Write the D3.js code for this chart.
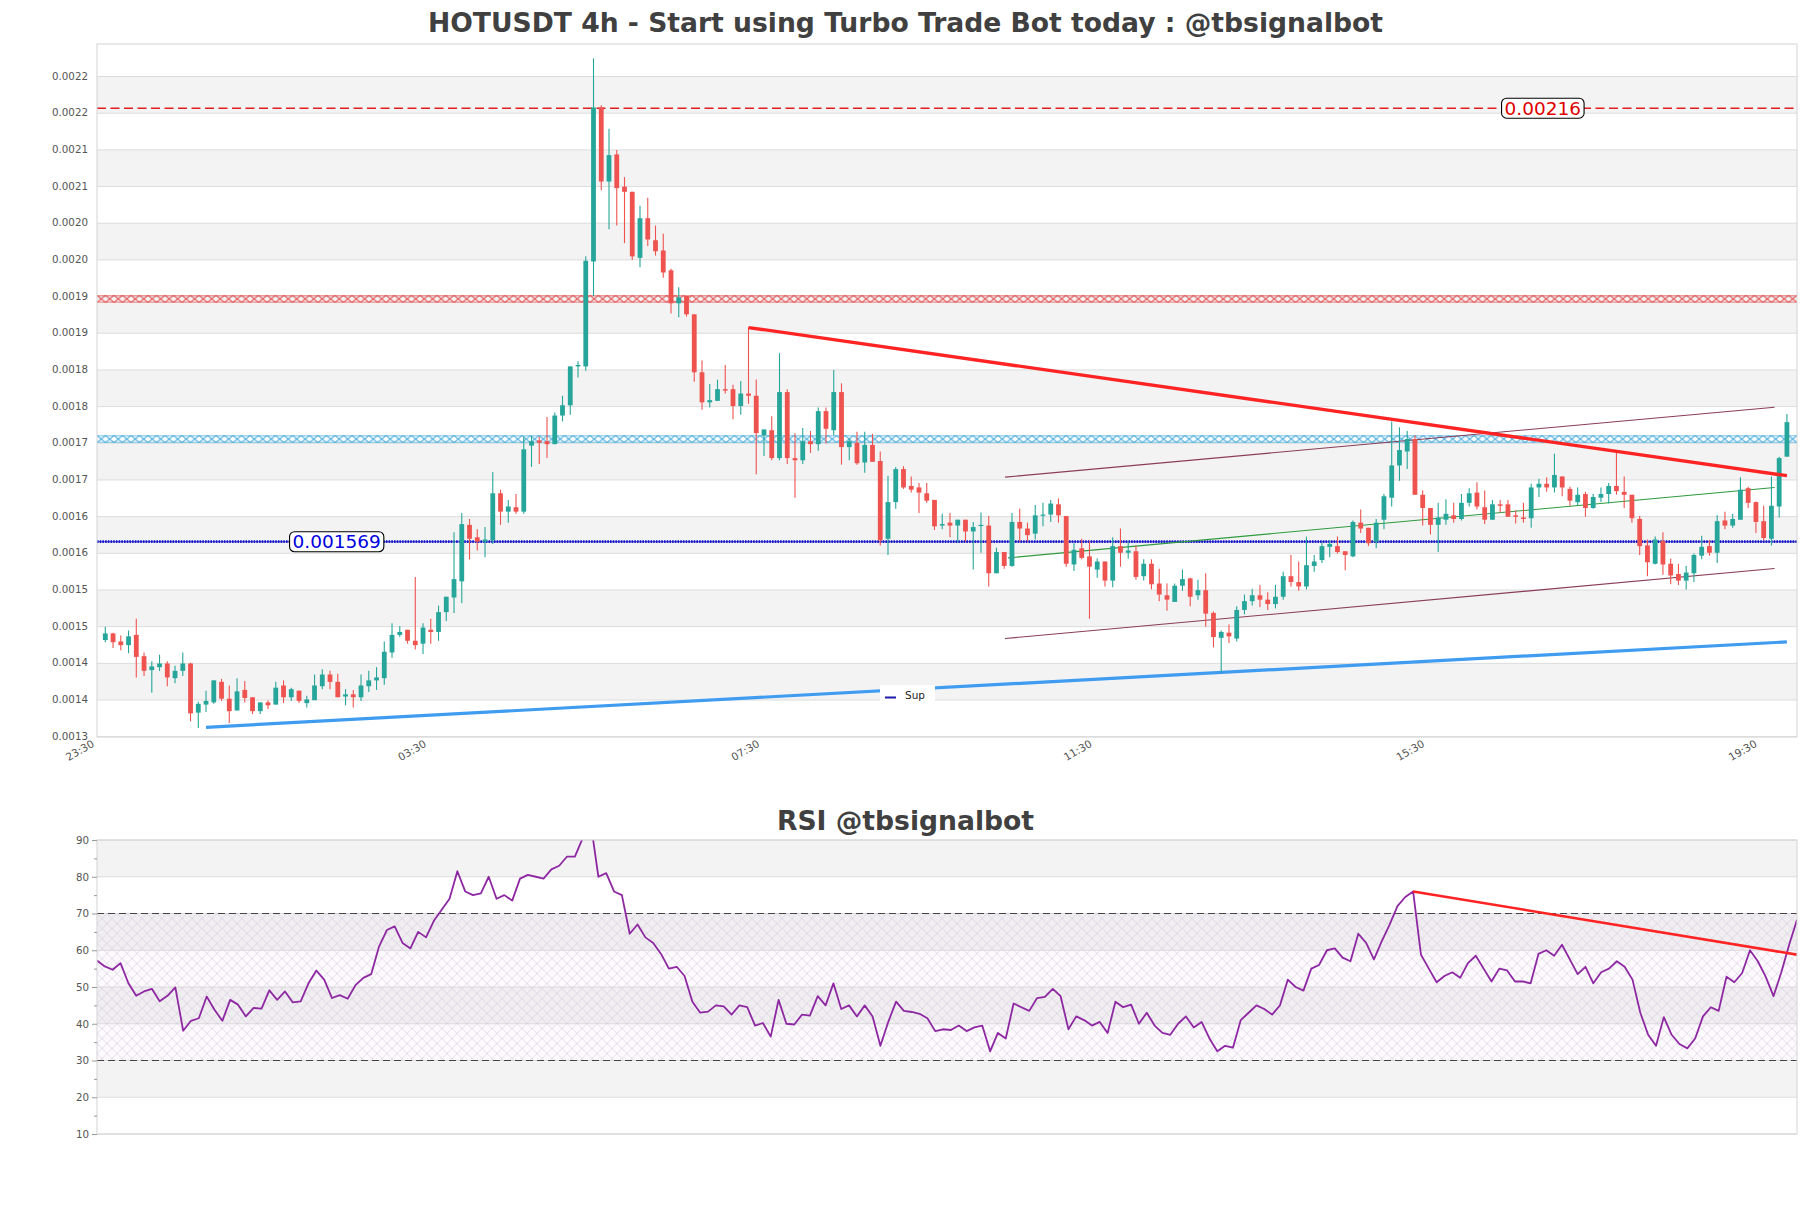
<!DOCTYPE html>
<html><head><meta charset="utf-8">
<script src="https://cdn.jsdelivr.net/npm/d3@7"></script>
<style>
body{margin:0;background:#fff;}
svg{display:block;font-family:"DejaVu Sans",sans-serif;}
</style></head><body>
<svg id="chart" width="1811" height="1208"></svg>
<script>
// ---------------- DATA ----------------
const openP = [0.001435,0.001444,0.001433,0.001428,0.001442,0.001413,0.001394,0.001398,0.001403,0.001383,
0.001393,0.001403,0.001336,0.001347,0.00135,0.001378,0.001355,0.001339,0.001367,0.001357,
0.001338,0.00135,0.001347,0.001373,0.001357,0.001366,0.001349,0.001353,0.001372,0.001388,
0.001378,0.001358,0.001361,0.001357,0.001372,0.00138,0.001383,0.001418,0.001442,0.001449,
0.001434,0.00143,0.001449,0.001446,0.001473,0.001493,0.001515,0.001592,0.001575,0.001569,
0.001571,0.001635,0.00161,0.001616,0.00161,0.0017,0.001707,0.001706,0.001702,0.001741,
0.001755,0.001808,0.001808,0.001951,0.002161,0.00206,0.002097,0.002053,0.002046,0.001956,
0.00201,0.00198,0.001966,0.001939,0.001894,0.001904,0.001879,0.0018,0.001759,0.001761,
0.001777,0.001777,0.001754,0.001771,0.001768,0.001714,0.001721,0.001683,0.001773,0.001683,
0.00168,0.001706,0.001702,0.001747,0.001721,0.001773,0.001698,0.001704,0.001677,0.001701,
0.001679,0.001573,0.001623,0.001668,0.001645,0.001643,0.001635,0.001626,0.001591,0.001595,
0.001591,0.001599,0.001583,0.001591,0.001591,0.001526,0.001555,0.001536,0.001596,0.001587,
0.00158,0.001605,0.001606,0.00162,0.001604,0.001538,0.00156,0.001549,0.001531,0.001542,
0.001516,0.001563,0.001554,0.001556,0.001522,0.001539,0.001512,0.001496,0.001487,0.001509,
0.001519,0.001496,0.001503,0.001472,0.001438,0.001445,0.001437,0.001476,0.001488,0.001496,
0.00149,0.001484,0.001494,0.001522,0.001514,0.001508,0.001536,0.001544,0.001562,0.001563,
0.001556,0.001549,0.001595,0.001588,0.001569,0.001599,0.001629,0.001673,0.001692,0.001709,
0.001633,0.001615,0.001592,0.001599,0.001605,0.0016,0.001622,0.001636,0.001616,0.001599,
0.00162,0.00162,0.001605,0.001602,0.001601,0.001643,0.001648,0.001643,0.001658,0.001641,
0.001623,0.001634,0.001615,0.001629,0.001634,0.001645,0.001637,0.001633,0.0016,0.001564,
0.001539,0.00157,0.001539,0.001525,0.001516,0.001526,0.00155,0.001563,0.001554,0.001598,
0.001591,0.001599,0.001642,0.001623,0.001597,0.001573,0.001617,0.001685];
const highP = [0.001453,0.001445,0.001441,0.001448,0.001464,0.001418,0.001406,0.001415,0.001406,0.0014,
0.001418,0.001404,0.001351,0.001366,0.00138,0.001382,0.001373,0.001383,0.001379,0.001357,
0.00135,0.001353,0.001378,0.00138,0.00137,0.001366,0.001359,0.001388,0.001395,0.001393,
0.001389,0.001368,0.001367,0.001388,0.001393,0.001398,0.001433,0.001458,0.001454,0.001449,
0.001521,0.001458,0.001464,0.001482,0.001494,0.001582,0.001608,0.0016,0.001586,0.001589,
0.001664,0.00164,0.001626,0.001634,0.001712,0.001713,0.001712,0.001739,0.001745,0.001768,
0.001808,0.001815,0.001958,0.002228,0.002164,0.002132,0.002103,0.002066,0.002046,0.002027,
0.002038,0.002,0.001989,0.001941,0.001916,0.001904,0.001879,0.001816,0.001784,0.00179,
0.00181,0.001783,0.001788,0.001861,0.00179,0.001722,0.00174,0.001826,0.001777,0.001717,
0.001724,0.00172,0.001752,0.001752,0.001803,0.001785,0.00171,0.001719,0.001719,0.001716,
0.001692,0.001659,0.001671,0.001672,0.001658,0.001649,0.001649,0.001626,0.001607,0.001608,
0.001599,0.001599,0.001596,0.001609,0.001604,0.001561,0.001555,0.001608,0.001614,0.001595,
0.001619,0.001622,0.001626,0.001628,0.001604,0.001567,0.001573,0.00157,0.001546,0.001542,
0.001575,0.001587,0.00157,0.001564,0.001545,0.001545,0.001532,0.001512,0.001512,0.001531,
0.00152,0.001517,0.001526,0.001474,0.001448,0.001456,0.001481,0.001497,0.001505,0.00151,
0.0015,0.00151,0.001528,0.001551,0.001542,0.001576,0.001551,0.001568,0.001571,0.001576,
0.001556,0.001598,0.001613,0.001588,0.0016,0.001634,0.001733,0.001725,0.00172,0.001714,
0.001639,0.001615,0.001622,0.001627,0.001622,0.001634,0.001642,0.00165,0.001639,0.001626,
0.001626,0.001626,0.001612,0.001622,0.001648,0.001655,0.001657,0.001689,0.001658,0.001644,
0.001643,0.001637,0.001634,0.001643,0.001649,0.00169,0.001658,0.001633,0.001604,0.001572,
0.001576,0.001582,0.001546,0.001539,0.001536,0.001553,0.001577,0.001571,0.001605,0.00161,
0.001607,0.001657,0.001644,0.001624,0.001618,0.001658,0.001685,0.001743];
const lowP = [0.001432,0.001424,0.001421,0.001417,0.001384,0.001386,0.001363,0.001393,0.001372,0.001376,
0.001386,0.001324,0.001315,0.001337,0.001348,0.001352,0.001322,0.001339,0.00135,0.001334,
0.001334,0.001341,0.001347,0.001349,0.001352,0.001349,0.001343,0.001353,0.001368,0.001368,
0.001357,0.001346,0.001343,0.001352,0.001364,0.001367,0.001374,0.001411,0.001439,0.00143,
0.001422,0.001416,0.00143,0.001434,0.001461,0.001472,0.001485,0.001545,0.001557,0.001548,
0.001566,0.001592,0.001595,0.001607,0.001607,0.001671,0.001675,0.001683,0.001702,0.001733,
0.001742,0.001793,0.001802,0.001904,0.002048,0.001995,0.002,0.001976,0.001953,0.001943,
0.001972,0.001959,0.001929,0.00188,0.001875,0.001876,0.001787,0.001749,0.001752,0.001761,
0.001771,0.001736,0.001742,0.001757,0.001661,0.001686,0.00168,0.00168,0.001675,0.001629,
0.001675,0.00169,0.001693,0.001703,0.001714,0.001674,0.00168,0.001674,0.001663,0.001678,
0.001564,0.001551,0.001614,0.001641,0.001636,0.001608,0.001622,0.001585,0.001586,0.001575,
0.001568,0.001569,0.001531,0.001554,0.001508,0.001526,0.001532,0.001535,0.001569,0.001569,
0.001572,0.00159,0.001596,0.001595,0.001535,0.001529,0.001545,0.001464,0.00152,0.001508,
0.001507,0.001535,0.001546,0.001517,0.001516,0.001504,0.001488,0.001475,0.001487,0.001502,
0.001481,0.00149,0.001453,0.001425,0.00139,0.001431,0.001433,0.00147,0.001482,0.00148,
0.001476,0.001478,0.00149,0.001508,0.001502,0.001504,0.001528,0.00154,0.001548,0.001553,
0.00153,0.001548,0.001581,0.001563,0.00156,0.001586,0.001617,0.001652,0.001668,0.001633,
0.001591,0.001579,0.001555,0.001592,0.001595,0.001598,0.001617,0.001613,0.001593,0.001599,
0.001609,0.001603,0.001594,0.001595,0.001588,0.00163,0.001637,0.001636,0.001631,0.001618,
0.001619,0.001603,0.001614,0.001623,0.001621,0.001633,0.001615,0.001595,0.001551,0.001522,
0.001538,0.001524,0.001511,0.00151,0.001504,0.001514,0.001545,0.00155,0.00154,0.001586,
0.001588,0.001599,0.001615,0.001581,0.001571,0.001564,0.001602,0.001685];
const closeP = [0.001444,0.001432,0.001428,0.00144,0.001412,0.001393,0.001399,0.001403,0.001384,0.001393,
0.001403,0.001335,0.001348,0.001352,0.00138,0.001355,0.001338,0.001365,0.001356,0.001338,
0.00135,0.001346,0.00137,0.001357,0.001368,0.001352,0.001354,0.001373,0.001388,0.001378,
0.001357,0.001361,0.001357,0.001373,0.00138,0.001384,0.001419,0.001442,0.001446,0.001434,
0.001428,0.001452,0.001446,0.001473,0.001494,0.001518,0.001593,0.001573,0.001569,0.001572,
0.001635,0.00161,0.001617,0.00161,0.001695,0.001706,0.001704,0.001702,0.001741,0.001755,
0.001808,0.00181,0.001952,0.002161,0.00206,0.002096,0.002051,0.002046,0.001958,0.00201,
0.001981,0.001965,0.001936,0.001894,0.001902,0.001879,0.0018,0.001759,0.001762,0.001777,
0.001775,0.001754,0.001771,0.001768,0.001717,0.001722,0.001683,0.001773,0.001683,0.00168,
0.001706,0.001702,0.001747,0.001723,0.001773,0.001698,0.001706,0.001676,0.001701,0.001678,
0.001571,0.001623,0.001668,0.001643,0.00164,0.001636,0.001625,0.00159,0.001593,0.001591,
0.001599,0.001583,0.001589,0.001592,0.001526,0.001555,0.001536,0.001596,0.001587,0.001578,
0.001605,0.001606,0.001621,0.001605,0.001539,0.001558,0.001547,0.001535,0.001542,0.001516,
0.001563,0.001554,0.001557,0.001521,0.001539,0.001511,0.001497,0.00149,0.001509,0.001518,
0.001494,0.001503,0.001471,0.001439,0.001446,0.00144,0.001476,0.001488,0.001496,0.00149,
0.001484,0.001494,0.001522,0.001514,0.001508,0.001537,0.001542,0.001563,0.001566,0.001555,
0.001551,0.001596,0.001587,0.001567,0.001595,0.001631,0.001673,0.001694,0.001709,0.001633,
0.001615,0.001592,0.001602,0.001607,0.0016,0.001622,0.001635,0.001617,0.001599,0.00162,
0.001618,0.001603,0.001603,0.0016,0.001643,0.001648,0.001643,0.00166,0.001643,0.001625,
0.001633,0.001615,0.00163,0.001634,0.001645,0.001638,0.001633,0.001601,0.001563,0.001541,
0.001572,0.001538,0.001523,0.001516,0.001527,0.001551,0.001562,0.001554,0.001597,0.001591,
0.0016,0.00164,0.001622,0.001596,0.001574,0.001618,0.001683,0.001732];
const rsiValues = [57.2,55.6,54.7,56.5,51.1,47.6,48.8,49.5,46.1,47.6,
49.9,38.1,40.8,41.5,47.4,43.8,40.8,46.5,45.2,42.0,
44.3,44.1,49.1,46.5,48.8,45.8,46.1,51,54.5,52,
47,47.8,46.8,50.5,52.5,53.5,61,65.5,66.5,62,
60.5,65,63.5,68,71,74,81.5,76,75,75.5,
80,74,75,73.5,79.5,80.5,80,79.5,82,83,
85.5,85.5,90.5,95,80,81,76,75,64.5,67,
63.5,62,59,55,55.5,53,46,43,43.3,45,
44.7,42.5,45,44.5,39.5,40.2,36.5,46.5,40,39.8,
42.5,42.2,47.5,45,51,44,45,42,45,42,
34,40.5,46,43.5,43.2,42.7,41.5,38,38.5,38.3,
39.5,38,39,39.5,32.5,37.5,36,45.5,44.5,43.5,
47,47.3,49.5,47.5,38.5,42,41,39.5,40.5,37.5,
46,44.5,45.2,40,43,39.5,37.5,37,40,42,
39,40.5,36,32.5,34,33.5,41,43,45,44,
42.5,45,52,50,49,55,56,60,60.5,58,
57,64.5,62,57.5,62.5,67,72,74.5,76,58.8,
55,51.3,53,54,52.5,56.5,58.5,55,51.5,55,
54.5,51.5,51.5,51,59,60,58.5,61.5,57.5,53.5,
55.5,51,54,55,57,55.5,52,43,37,34,
41.8,37,34.5,33.3,36,42,44.5,43.5,52.8,51.3,
53.8,60,57,52.8,47.5,54,61.5,68.3];

const priceTicks = [0.0013032,0.0013532,0.0014032,0.0014532,0.0015032,0.0015532,0.0016032,0.0016532,0.0017032,0.0017532,
0.0018032,0.0018532,0.0019032,0.0019532,0.0020032,0.0020532,0.0021032,0.0021532,0.0022032];
const priceTickLabels = ["0.0013","0.0014","0.0014","0.0015","0.0015","0.0016","0.0016","0.0017","0.0017","0.0018",
"0.0018","0.0019","0.0019","0.0020","0.0020","0.0021","0.0021","0.0022","0.0022"];
const timeTickPos = [-1.07, 41.8, 84.8, 127.7, 170.6, 213.5];
const timeTickLabels = ["23:30","03:30","07:30","11:30","15:30","19:30"];
const rsiTicks = [10,20,30,40,50,60,70,80,90];
const rsiMinorTicks = [15,25,35,45,55,65,75,85];

const resistanceLevel = 0.00216;
const zoneRed = 0.0019;
const zoneCyan = 0.001709;
const supportLevel = 0.001569;
const trendDown = [[83,0.001861],[217,0.001659]];
const supportLine = [[13,0.001316],[217,0.0014325]];
const channelUpper = [[116.1,0.001657],[215.4,0.0017524]];
const channelLower = [[116.1,0.001437],[215.4,0.0015324]];
const channelMid = [[116.5,0.001547],[215.4,0.001643]];
const rsiTrend = [[168,76],[217,58.8]];

// ---------------- LAYOUT ----------------
const M = {left:97, right:1797, top:44, bottom:737};
const R = {left:97, right:1797, top:840, bottom:1134};
const svg = d3.select('#chart');
const defs = svg.append('defs');
const FONT = '"DejaVu Sans", sans-serif';

const x = d3.scaleLinear().domain([-1.07, 218.3]).range([M.left, M.right]);
const y = d3.scaleLinear().domain([0.0013028, 0.0022475]).range([M.bottom, M.top]);
const rx = d3.scaleLinear().domain([0, rsiValues.length-1]).range([R.left, R.right]);
const ry = d3.scaleLinear().domain([10, 90]).range([R.bottom, R.top]);

defs.append('clipPath').attr('id','clipMain').append('rect')
  .attr('x',M.left).attr('y',M.top).attr('width',M.right-M.left).attr('height',M.bottom-M.top);
defs.append('clipPath').attr('id','clipRsi').append('rect')
  .attr('x',R.left).attr('y',R.top).attr('width',R.right-R.left).attr('height',R.bottom-R.top);

svg.append('text').attr('x',905.5).attr('y',22).attr('text-anchor','middle').attr('dominant-baseline','central')
  .attr('font-family',FONT).attr('font-weight','bold').attr('font-size','26.6px').attr('fill','#404040')
  .text('HOTUSDT 4h - Start using Turbo Trade Bot today : @tbsignalbot');
svg.append('text').attr('x',905.5).attr('y',820).attr('text-anchor','middle').attr('dominant-baseline','central')
  .attr('font-family',FONT).attr('font-weight','bold').attr('font-size','26.6px').attr('fill','#404040')
  .text('RSI @tbsignalbot');

// ---------------- MAIN PANEL ----------------
const gm = svg.append('g');
for (let k=0;k<priceTicks.length-1;k++){
  if (k%2===1){
    gm.append('rect').attr('x',M.left).attr('width',M.right-M.left)
      .attr('y',y(priceTicks[k+1])).attr('height',y(priceTicks[k])-y(priceTicks[k+1])).attr('fill','#f3f3f3');
  }
}
gm.selectAll('line.grid').data(priceTicks).join('line').attr('class','grid')
  .attr('x1',M.left).attr('x2',M.right).attr('y1',d=>y(d)).attr('y2',d=>y(d))
  .attr('stroke','#dcdcdc').attr('stroke-width',1);

function hatch(id,color,yTop,w,h,sw){
  const p = defs.append('pattern').attr('id',id).attr('patternUnits','userSpaceOnUse')
    .attr('x',M.left).attr('y',yTop).attr('width',w).attr('height',h);
  p.append('path').attr('d',`M0,0L${w},${h}M${w},0L0,${h}`)
    .attr('stroke',color).attr('stroke-width',sw).attr('fill','none');
}
const pm = gm.append('g').attr('clip-path','url(#clipMain)');
function zone(v,color,id){
  const yc = y(v), h=7;
  hatch(id,color,yc-h/2,8.5,h,0.95);
  pm.append('rect').attr('x',M.left).attr('width',M.right-M.left).attr('y',yc-h/2).attr('height',h)
    .attr('fill',`url(#${id})`);
  [yc-h/2+0.3, yc+h/2-0.3].forEach(yy=>pm.append('line').attr('x1',M.left).attr('x2',M.right)
    .attr('y1',yy).attr('y2',yy).attr('stroke',color).attr('stroke-width',0.6));
}
zone(zoneRed,'#e32a2a','hRed');
zone(zoneCyan,'#1c98d8','hCyan');

pm.append('line').attr('x1',M.left).attr('x2',M.right).attr('y1',y(resistanceLevel)).attr('y2',y(resistanceLevel))
  .attr('stroke','#e02020').attr('stroke-width',1.5).attr('stroke-dasharray','9,4.5');
pm.append('line').attr('x1',M.left).attr('x2',M.right).attr('y1',y(supportLevel)).attr('y2',y(supportLevel))
  .attr('stroke','#10109a').attr('stroke-width',0.8);
pm.append('line').attr('x1',M.left).attr('x2',M.right).attr('y1',y(supportLevel)).attr('y2',y(supportLevel))
  .attr('stroke','#1717d0').attr('stroke-width',2.8).attr('stroke-dasharray','1.6,1.1');

const line = d3.line().x(d=>x(d[0])).y(d=>y(d[1]));
pm.append('path').attr('d',line(supportLine)).attr('stroke','#3f9cf0').attr('stroke-width',3.2).attr('fill','none');
pm.append('path').attr('d',line(channelUpper)).attr('stroke','#8a3d54').attr('stroke-width',1.1).attr('fill','none');
pm.append('path').attr('d',line(channelLower)).attr('stroke','#8a3d54').attr('stroke-width',1.1).attr('fill','none');
pm.append('path').attr('d',line(channelMid)).attr('stroke','#2e9b3e').attr('stroke-width',1.1).attr('fill','none');

const cg = pm.append('g');
const idx = d3.range(openP.length);
const colorOf = i => closeP[i] >= openP[i] ? '#26a69a' : '#ef5350';
cg.selectAll('line.wick').data(idx).join('line').attr('class','wick')
  .attr('x1',i=>x(i)).attr('x2',i=>x(i)).attr('y1',i=>y(highP[i])).attr('y2',i=>y(lowP[i]))
  .attr('stroke',colorOf).attr('stroke-width',1.1);
cg.selectAll('rect.body').data(idx).join('rect').attr('class','body')
  .attr('x',i=>x(i)-2.4).attr('width',4.8)
  .attr('y',i=>y(Math.max(openP[i],closeP[i])))
  .attr('height',i=>Math.max(1.2, Math.abs(y(openP[i])-y(closeP[i]))))
  .attr('fill',colorOf);

pm.append('path').attr('d',line(trendDown)).attr('stroke','#ff2323').attr('stroke-width',3.3).attr('fill','none');

function levelLabel(xi,v,txt,color){
  const g = gm.append('g');
  const t = g.append('text').attr('x',x(xi)).attr('y',y(v)).attr('text-anchor','middle').attr('dominant-baseline','central')
    .attr('font-family',FONT).attr('font-size','18.5px').attr('fill',color).text(txt);
  const bb = t.node().getBBox();
  g.insert('rect','text').attr('x',bb.x-3).attr('y',y(v)-10).attr('width',bb.width+6).attr('height',20)
    .attr('rx',5).attr('fill','#fff').attr('stroke','#000').attr('stroke-width',1.1);
}
levelLabel(185.5,resistanceLevel,'0.00216','#e00000');
levelLabel(29.86,supportLevel,'0.001569','#0000e0');

const lg = gm.append('g');
lg.append('rect').attr('x',880).attr('y',685).attr('width',55).attr('height',19).attr('fill','#fff');
lg.append('line').attr('x1',885).attr('x2',896).attr('y1',697.5).attr('y2',697.5).attr('stroke','#1a1aa8').attr('stroke-width',2);
lg.append('text').attr('x',905).attr('y',695).attr('dominant-baseline','central').attr('font-family',FONT)
  .attr('font-size','10.5px').attr('fill','#222').text('Sup');

gm.append('rect').attr('x',M.left).attr('y',M.top).attr('width',M.right-M.left).attr('height',M.bottom-M.top)
  .attr('fill','none').attr('stroke','#d4d4d4').attr('stroke-width',1);

const yAxis = d3.axisLeft(y).tickValues(priceTicks).tickFormat((d,i)=>priceTickLabels[i]).tickSize(0).tickPadding(9);
const ya = svg.append('g').attr('transform',`translate(${M.left},0)`).call(yAxis);
ya.select('.domain').remove();
ya.selectAll('text').attr('font-family',FONT).attr('font-size','10.3px').attr('fill','#555').attr('dy','0.25em');

const xAxis = d3.axisBottom(x).tickValues(timeTickPos).tickFormat((d,i)=>timeTickLabels[i]).tickSize(0);
const xa = svg.append('g').attr('transform',`translate(0,${M.bottom})`).call(xAxis);
xa.select('.domain').remove();
xa.selectAll('text').attr('font-family',FONT).attr('font-size','10.6px').attr('fill','#555')
  .attr('x',0).attr('y',0).attr('dy','0.75em').attr('text-anchor','end')
  .attr('transform','translate(-6.5,2) rotate(-30)');

// ---------------- RSI PANEL ----------------
const gr = svg.append('g');
[[80,90],[60,70],[40,50],[20,30]].forEach(b=>{
  gr.append('rect').attr('x',R.left).attr('width',R.right-R.left).attr('y',ry(b[1])).attr('height',ry(b[0])-ry(b[1])).attr('fill','#f3f3f3');
});
gr.selectAll('line.rgrid').data(rsiTicks).join('line').attr('class','rgrid')
  .attr('x1',R.left).attr('x2',R.right).attr('y1',d=>ry(d)).attr('y2',d=>ry(d)).attr('stroke','#dcdcdc');
const rp = defs.append('pattern').attr('id','hRsi').attr('patternUnits','userSpaceOnUse')
  .attr('x',R.left).attr('y',ry(70)).attr('width',10).attr('height',10);
rp.append('path').attr('d','M0,0L10,10M10,0L0,10').attr('stroke','#d6cadd').attr('stroke-width',0.6).attr('fill','none');
gr.append('rect').attr('x',R.left).attr('width',R.right-R.left).attr('y',ry(70)).attr('height',ry(30)-ry(70))
  .attr('fill','rgba(200,175,215,0.06)');
gr.append('rect').attr('x',R.left).attr('width',R.right-R.left).attr('y',ry(70)).attr('height',ry(30)-ry(70))
  .attr('fill','url(#hRsi)');
[70,30].forEach(v=>gr.append('line').attr('x1',R.left).attr('x2',R.right).attr('y1',ry(v)).attr('y2',ry(v))
  .attr('stroke','#444').attr('stroke-width',1.2).attr('stroke-dasharray','7,4'));

const rg = gr.append('g').attr('clip-path','url(#clipRsi)');
rg.append('path').datum(rsiValues).attr('d',d3.line().x((d,i)=>rx(i)).y(d=>ry(d)))
  .attr('fill','none').attr('stroke','#8e28a2').attr('stroke-width',1.8).attr('stroke-linejoin','round');
rg.append('path').attr('d',d3.line().x(d=>rx(d[0])).y(d=>ry(d[1]))(rsiTrend))
  .attr('stroke','#ff2323').attr('stroke-width',2.6).attr('fill','none');

gr.append('rect').attr('x',R.left).attr('y',R.top).attr('width',R.right-R.left).attr('height',R.bottom-R.top)
  .attr('fill','none').attr('stroke','#d4d4d4');

const rAxis = d3.axisLeft(ry).tickValues(rsiTicks).tickSize(5).tickPadding(3);
const ra = svg.append('g').attr('transform',`translate(${R.left},0)`).call(rAxis);
ra.select('.domain').remove();
ra.selectAll('line').attr('stroke','#999');
ra.selectAll('text').attr('font-family',FONT).attr('font-size','10.3px').attr('fill','#555');
const rMinor = d3.axisLeft(ry).tickValues(rsiMinorTicks).tickSize(3).tickFormat('');
const rm = svg.append('g').attr('transform',`translate(${R.left},0)`).call(rMinor);
rm.select('.domain').remove();
rm.selectAll('line').attr('stroke','#999');
</script>
</body></html>
